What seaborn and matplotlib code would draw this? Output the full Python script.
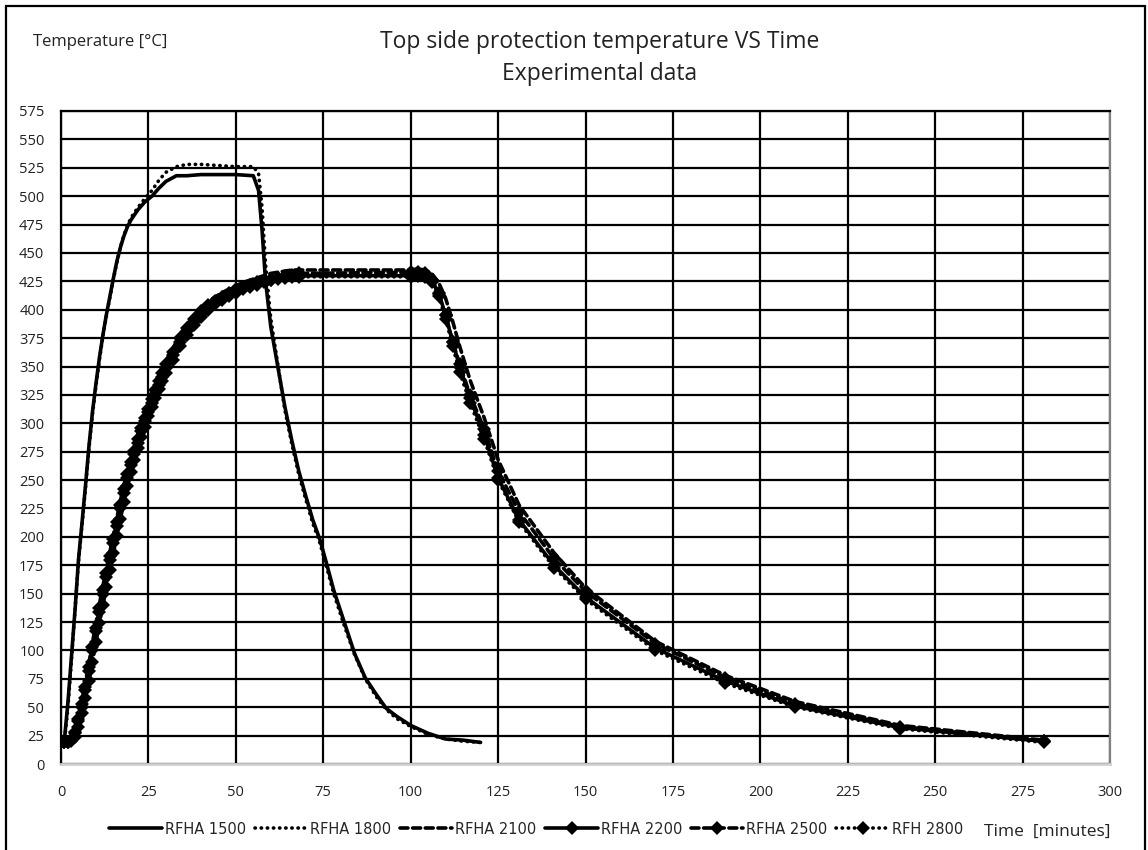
import numpy as np
import pandas as pd
import matplotlib
matplotlib.use("Agg")
import matplotlib.pyplot as plt
import seaborn as sns
from matplotlib.patches import Rectangle

# ---------------- data ----------------
t_a = [0, 1, 2, 3, 4, 5, 6, 7, 8, 9, 10, 11, 12, 13, 14, 15, 16, 17, 18, 19, 20,
       22, 24, 26, 28, 30, 33, 36, 40, 45, 50, 55, 56.5, 57.5, 58.5, 60,
       62, 64, 66, 68, 70, 72, 74, 76, 78, 81, 84, 87, 90, 93, 96,
       100, 105, 110, 115, 120]

rfha_1500 = [20, 22, 55, 95, 135, 180, 212, 245, 280, 310, 335, 358, 378, 396, 412, 428, 443, 455, 465, 473, 479,
             488, 495, 500, 507, 513, 518, 518, 519, 519, 519, 518, 505, 470, 425, 385,
             350, 315, 285, 258, 236, 215, 198, 176, 153, 125, 97, 76, 62, 49, 42,
             34, 27, 22, 21, 19]

rfha_1800 = [20, 21, 50, 92, 135, 178, 210, 243, 278, 308, 333, 356, 377, 395, 411, 427, 442, 455, 466, 474, 481,
             490, 498, 505, 514, 521, 526, 528, 528, 527, 526, 526, 520, 490, 440, 392,
             352, 312, 282, 255, 233, 212, 195, 173, 150, 122, 96, 75, 60, 48, 40,
             33, 26, 22, 20, 19]

t_b = [0, 1, 2, 3, 4, 5, 6, 7, 8, 9, 10, 11, 12, 13, 14, 15, 16, 17, 18, 19, 20,
       21, 22, 23, 24, 25, 26, 27, 28, 29, 30,
       32, 34, 36, 38, 40, 42, 44, 46, 48, 50, 52, 54, 56, 58, 60, 62, 64, 66, 68,
       100, 102, 104, 106, 108, 110, 112, 114,
       117, 121, 125, 131, 141, 150, 170, 190, 210, 240, 281]

rfha_2100 = [20, 20, 20, 22, 30, 42, 56, 72, 89, 107, 124, 141, 157, 172, 187, 202, 217, 232, 246, 259, 270,
             280, 290, 300, 309, 317, 325, 333, 341, 348, 355,
             366, 378, 387, 395, 402, 407, 411, 415, 418, 421, 424, 426, 428, 430, 432, 433, 434, 435, 435,
             435, 436, 435, 432, 424, 410, 390, 368,
             338, 305, 268, 228, 186, 155, 108, 78, 55, 34, 21]

rfha_2200 = [20, 19, 19, 21, 28, 40, 53, 68, 85, 103, 120, 137, 153, 168, 183, 198, 213, 228, 242, 255, 266,
             276, 286, 296, 305, 313, 321, 329, 337, 344, 352,
             363, 375, 384, 392, 399, 404, 408, 411, 415, 418, 420, 422, 424, 425, 427, 428, 429, 430, 430,
             430, 431, 430, 426, 415, 395, 372, 350,
             322, 290, 252, 215, 175, 147, 102, 73, 51, 32, 20]

rfha_2500 = [20, 19, 19, 20, 24, 33, 45, 58, 73, 90, 107, 124, 140, 156, 171, 186, 201, 216, 231, 245, 257,
             268, 278, 288, 297, 306, 314, 322, 330, 337, 344,
             356, 368, 378, 387, 394, 400, 405, 409, 412, 415, 418, 420, 422, 424, 426, 428, 430, 431, 432,
             433, 433, 432, 426, 414, 395, 372, 352,
             325, 295, 258, 222, 181, 152, 106, 76, 53, 33, 20]

rfh_2800 = [20, 19, 19, 21, 27, 38, 50, 65, 82, 100, 117, 134, 150, 165, 180, 195, 210, 225, 239, 252, 263,
            273, 283, 293, 302, 310, 318, 326, 334, 341, 349,
            360, 372, 381, 389, 396, 401, 406, 410, 413, 416, 419, 421, 423, 425, 426, 427, 428, 429, 429,
            429, 430, 429, 424, 412, 392, 368, 345,
            318, 286, 250, 213, 173, 145, 100, 71, 50, 31, 19]

x_ticks = list(range(0, 301, 25))
y_ticks = list(range(0, 576, 25))

# ---------------- style ----------------
sns.set_theme(style="white")
plt.rcParams["font.family"] = ["Open Sans", "DejaVu Sans"]

fig = plt.figure(figsize=(11.48, 8.5), dpi=100)
ax = fig.add_axes([61 / 1148, 1 - 764 / 850, (1110 - 61) / 1148, (764 - 111) / 850])

lw = 2.6
series = [
    (t_a, rfha_1500, "RFHA 1500", dict(linestyle="-", marker=None)),
    (t_a, rfha_1800, "RFHA 1800", dict(linestyle=(0, (0.1, 1.6)), marker=None)),
    (t_b, rfha_2100, "RFHA 2100", dict(linestyle=(0, (2.2, 1.3)), marker=None)),
    (t_b, rfha_2200, "RFHA 2200", dict(linestyle="-", marker="D")),
    (t_b, rfha_2500, "RFHA 2500", dict(linestyle=(0, (2.2, 1.3)), marker="D")),
    (t_b, rfh_2800, "RFH 2800", dict(linestyle=(0, (0.1, 1.6)), marker="D")),
]

for tt, vals, name, st in series:
    df = pd.DataFrame({"t": tt, "T": vals})
    sns.lineplot(data=df, x="t", y="T", ax=ax, color="black", linewidth=lw,
                 label=name, markersize=7.5, markeredgewidth=0,
                 dash_capstyle="round", solid_capstyle="round", **st)

ax.set_xlim(0, 300)
ax.set_ylim(0, 575)
ax.set_xticks(x_ticks)
ax.set_yticks(y_ticks)
ax.set_xlabel("")
ax.set_ylabel("")
ax.set_axisbelow(True)
ax.grid(True, color="black", linewidth=1.6)
ax.tick_params(axis="both", length=0, labelsize=10.5, colors="#222222")
ax.tick_params(axis="x", pad=15)
ax.tick_params(axis="y", pad=12)
for s in ["left", "top"]:
    ax.spines[s].set_color("black")
    ax.spines[s].set_linewidth(1.6)
ax.spines["bottom"].set_color("#d0d0d0")
ax.spines["bottom"].set_linewidth(2)
ax.spines["right"].set_color("#808080")
ax.spines["right"].set_linewidth(1.6)

ax.get_legend().remove()
handles, labels = ax.get_legend_handles_labels()
fig.legend(handles, labels, loc="center", bbox_to_anchor=(0.467, 1 - 829 / 850), ncol=6,
           frameon=False, handlelength=3.6, handletextpad=0.2, columnspacing=0.6,
           prop={"family": ["Liberation Sans Narrow", "DejaVu Sans"], "size": 10.5})

fig.text(33 / 1148, 1 - 42 / 850, "Temperature [°C]", ha="left", va="center", fontsize=12, color="#222222")
fig.text(600 / 1148, 1 - 42 / 850, "Top side protection temperature VS Time", ha="center", va="center",
         fontsize=16.5, color="#222222")
fig.text(600 / 1148, 1 - 74 / 850, "Experimental data", ha="center", va="center",
         fontsize=16.5, color="#222222")
fig.text(1110 / 1148, 1 - 832 / 850, "Time  [minutes]", ha="right", va="center", fontsize=12.5, color="#222222")

fig.patches.append(Rectangle((6 / 1148, -0.05), (1145 - 6) / 1148, 1.05 - 6 / 850,
                             transform=fig.transFigure, fill=False, edgecolor="black", linewidth=1.6))

fig.savefig("out.png", dpi=100)
